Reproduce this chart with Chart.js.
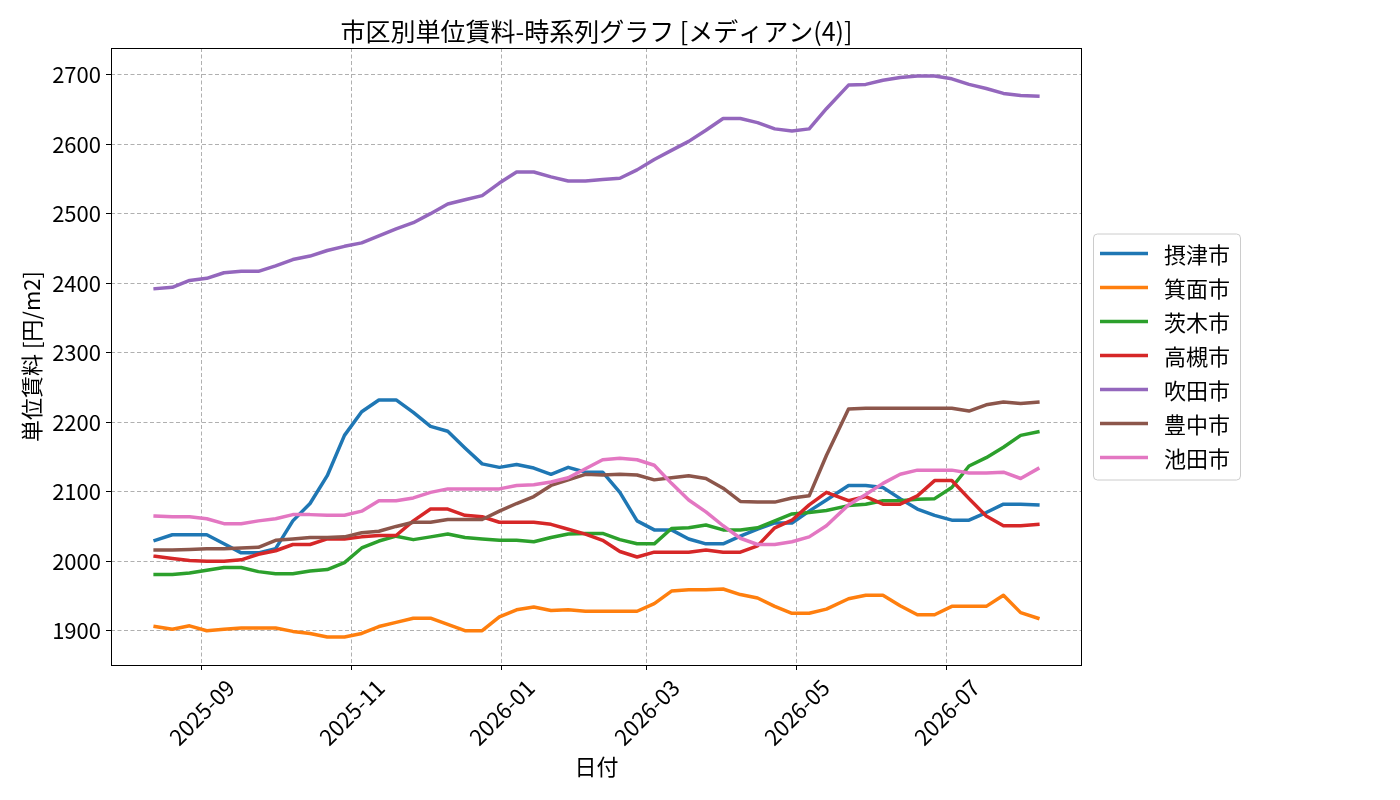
<!DOCTYPE html>
<html lang="ja">
<head>
<meta charset="utf-8">
<title>市区別単位賃料-時系列グラフ</title>
<script src="https://cdn.jsdelivr.net/npm/chart.js@4.4.1/dist/chart.umd.min.js"></script>
<style>
    html, body { margin: 0; padding: 0; background: #fff; }
    #wrap { width: 1400px; height: 800px; }
</style>
</head>
<body>
<div id="wrap"><canvas id="rentChart" width="1400" height="800"></canvas></div>
<script>
// Ngày quan sát (gần như mỗi tuần)
const dates = [
    '2025-08-13', '2025-08-20', '2025-08-27', '2025-09-03', '2025-09-10', '2025-09-17', '2025-09-24',
    '2025-10-01', '2025-10-08', '2025-10-15', '2025-10-22', '2025-10-29', '2025-11-05', '2025-11-12',
    '2025-11-19', '2025-11-26', '2025-12-03', '2025-12-10', '2025-12-17', '2025-12-24', '2025-12-31',
    '2026-01-07', '2026-01-14', '2026-01-21', '2026-01-28', '2026-02-04', '2026-02-11', '2026-02-18',
    '2026-02-25', '2026-03-04', '2026-03-11', '2026-03-18', '2026-03-25', '2026-04-01', '2026-04-08',
    '2026-04-15', '2026-04-22', '2026-04-29', '2026-05-06', '2026-05-13', '2026-05-22', '2026-05-29',
    '2026-06-05', '2026-06-12', '2026-06-19', '2026-06-26', '2026-07-03', '2026-07-10', '2026-07-17',
    '2026-07-24', '2026-07-31', '2026-08-07'
];

const cities = ['摂津市', '箕面市', '茨木市', '高槻市', '吹田市', '豊中市', '池田市'];

const settsu = [2030, 2038, 2038, 2038, 2025, 2012, 2012, 2018, 2058, 2083, 2123, 2181, 2215, 2232, 2232, 2214, 2194, 2187,
    2163, 2140, 2135, 2139, 2134, 2125, 2135, 2128, 2128, 2099, 2058, 2045, 2045, 2032, 2025, 2025, 2036, 2046, 2055,
    2055, 2072, 2088, 2109, 2109, 2106, 2090, 2075, 2066, 2059, 2059, 2070, 2082, 2082, 2081];
const minoh = [1906, 1902, 1907, 1900, 1902, 1904, 1904, 1904, 1899, 1896, 1891, 1891, 1896, 1906, 1912, 1918, 1918, 1909,
    1900, 1900, 1920, 1930, 1934, 1929, 1930, 1928, 1928, 1928, 1928, 1939, 1957, 1959, 1959, 1960, 1952, 1947, 1935,
    1925, 1925, 1931, 1946, 1951, 1951, 1936, 1923, 1923, 1935, 1935, 1935, 1951, 1926, 1918];
const ibaraki = [1981, 1981, 1983, 1987, 1991, 1991, 1985, 1982, 1982, 1986, 1988, 1998, 2019, 2029, 2036, 2031, 2035, 2039,
    2034, 2032, 2030, 2030, 2028, 2034, 2039, 2040, 2040, 2031, 2025, 2025, 2047, 2048, 2052, 2045, 2045, 2048, 2058,
    2068, 2070, 2073, 2080, 2082, 2087, 2087, 2089, 2090, 2106, 2137, 2149, 2164, 2181, 2186];
const takatsuki = [2007, 2004, 2001, 2000, 2000, 2002, 2010, 2015, 2024, 2024, 2032, 2032, 2035, 2037, 2037, 2058, 2075, 2075,
    2066, 2064, 2056, 2056, 2056, 2053, 2046, 2039, 2030, 2014, 2006, 2013, 2013, 2013, 2016, 2013, 2013, 2022, 2048,
    2059, 2081, 2099, 2087, 2093, 2082, 2082, 2094, 2116, 2116, 2090, 2065, 2051, 2051, 2053];
const suita = [2392, 2394, 2404, 2407, 2415, 2417, 2417, 2425, 2434, 2439, 2447, 2453, 2458, 2468, 2478, 2487, 2500, 2514,
    2520, 2526, 2544, 2560, 2560, 2553, 2547, 2547, 2549, 2551, 2563, 2578, 2591, 2604, 2620, 2637, 2637, 2631, 2622,
    2619, 2622, 2651, 2685, 2686, 2692, 2696, 2698, 2698, 2694, 2686, 2680, 2673, 2670, 2669];
const toyonaka = [2016, 2016, 2017, 2018, 2018, 2019, 2020, 2030, 2032, 2034, 2034, 2035, 2041, 2043, 2050, 2056, 2056, 2060,
    2060, 2060, 2072, 2083, 2093, 2109, 2117, 2125, 2124, 2125, 2124, 2117, 2120, 2123, 2119, 2105, 2086, 2085, 2085,
    2091, 2094, 2152, 2219, 2220, 2220, 2220, 2220, 2220, 2220, 2216, 2225, 2229, 2227, 2229];
const ikeda = [2065, 2064, 2064, 2061, 2054, 2054, 2058, 2061, 2067, 2067, 2066, 2066, 2072, 2087, 2087, 2091, 2099, 2104,
    2104, 2104, 2104, 2109, 2110, 2114, 2120, 2133, 2146, 2148, 2146, 2138, 2112, 2088, 2071, 2051, 2033, 2024, 2024,
    2028, 2035, 2051, 2081, 2096, 2112, 2125, 2131, 2131, 2131, 2127, 2127, 2128, 2119, 2133];

const seriesValues = [settsu, minoh, ibaraki, takatsuki, suita, toyonaka, ikeda];
const colors = ['#1f77b4', '#ff7f0e', '#2ca02c', '#d62728', '#9467bd', '#8c564b', '#e377c2'];

const xTickLabels = ['2025-09', '2025-11', '2026-01', '2026-03', '2026-05', '2026-07'];
const yTicks = [1900, 2000, 2100, 2200, 2300, 2400, 2500, 2600, 2700];

const FONT = '"Noto Sans CJK JP", "Noto Sans", sans-serif';

// 'YYYY-MM-DD' hoặc 'YYYY-MM' -> số ngày
function toDay(s) {
    const p = s.split('-').map(Number);
    return Date.UTC(p[0], p[1] - 1, p[2] || 1) / 86400000;
}

// lề 5% như matplotlib
function padRange(min, max) {
    const m = (max - min) * 0.05;
    return [min - m, max + m];
}

const dayValues = dates.map(toDay);
const xRange = padRange(Math.min(...dayValues), Math.max(...dayValues));
const allValues = seriesValues.flat();
const yRange = padRange(Math.min(...allValues), Math.max(...allValues));

// Khung trục + nhãn trục x xoay 45 độ
const framePlugin = {
    id: 'frame',
    afterDatasetsDraw(chart) {
        const { ctx, chartArea: a } = chart;
        ctx.save();
        ctx.strokeStyle = '#000';
        ctx.lineWidth = 1;
        ctx.strokeRect(a.left + 0.5, a.top + 0.5, a.right - a.left - 1, a.bottom - a.top);
        ctx.restore();
    },
    afterDraw(chart) {
        const { ctx, chartArea: a } = chart;
        const sc = chart.scales.x;
        ctx.save();
        ctx.font = '22px ' + FONT;
        ctx.fillStyle = '#000';
        ctx.textAlign = 'center';
        ctx.textBaseline = 'middle';
        xTickLabels.forEach(label => {
            const w = ctx.measureText(label).width;
            const h = 22;
            const bh = (w + h) * Math.SQRT1_2;
            const cx = sc.getPixelForValue(toDay(label));
            const cy = a.bottom + 11 + bh / 2;
            ctx.setTransform(1, 0, 0, 1, 0, 0);
            ctx.translate(cx, cy);
            ctx.rotate(-Math.PI / 4);
            ctx.fillText(label, 0, 0);
        });
        ctx.restore();
    }
};

// Chú thích bên phải
const legendPlugin = {
    id: 'sideLegend',
    afterDraw(chart) {
        const { ctx, chartArea: a } = chart;
        const x0 = a.right + 11;
        const rowH = 34;
        const boxW = 147;
        const boxH = rowH * cities.length + 8;
        const y0 = (a.top + a.bottom) / 2 - boxH / 2;
        ctx.save();
        ctx.beginPath();
        ctx.roundRect(x0 + 0.5, y0 + 0.5, boxW, boxH, 4);
        ctx.fillStyle = 'rgba(255,255,255,0.8)';
        ctx.fill();
        ctx.strokeStyle = '#cccccc';
        ctx.lineWidth = 1;
        ctx.stroke();
        ctx.font = '22px ' + FONT;
        ctx.textBaseline = 'middle';
        ctx.textAlign = 'left';
        chart.data.datasets.forEach((ds, i) => {
            const y = y0 + 20 + i * rowH;
            ctx.beginPath();
            ctx.strokeStyle = ds.borderColor;
            ctx.lineWidth = 3.5;
            ctx.lineCap = 'butt';
            ctx.moveTo(x0 + 7, y);
            ctx.lineTo(x0 + 55, y);
            ctx.stroke();
            ctx.fillStyle = '#000';
            ctx.fillText(ds.label, x0 + 71, y + 1);
        });
        ctx.restore();
    }
};

function buildDatasets() {
    return cities.map((name, i) => ({
        label: name,
        data: seriesValues[i].map((v, j) => ({ x: dayValues[j], y: v })),
        borderColor: colors[i],
        backgroundColor: colors[i],
        borderWidth: 3.5,
        borderCapStyle: 'square',
        borderJoinStyle: 'round',
        pointRadius: 0,
        tension: 0,
        fill: false,
        order: cities.length - i
    }));
}

document.addEventListener('DOMContentLoaded', function() {
    const ctx = document.getElementById('rentChart').getContext('2d');
    window.rentChart = new Chart(ctx, {
        type: 'line',
        data: { datasets: buildDatasets() },
        options: {
            responsive: false,
            animation: false,
            layout: { padding: { left: 0, right: 318, top: 0, bottom: 0 } },
            plugins: {
                legend: { display: false },
                tooltip: { enabled: false },
                title: {
                    display: true,
                    fullSize: false,
                    text: '市区別単位賃料-時系列グラフ [メディアン(4)]',
                    color: '#000',
                    font: { family: FONT, size: 25, weight: 'normal' },
                    padding: { top: 16, bottom: 2 }
                }
            },
            scales: {
                x: {
                    type: 'linear',
                    min: xRange[0],
                    max: xRange[1],
                    afterBuildTicks: scale => {
                        scale.ticks = xTickLabels.map(l => ({ value: toDay(l) }));
                    },
                    afterFit: scale => { scale.height = 135; },
                    ticks: { display: false, autoSkip: false },
                    grid: {
                        color: '#b0b0b0',
                        lineWidth: 1,
                        tickLength: 5,
                        tickColor: '#000',
                        tickBorderDash: []
                    },
                    border: { display: false, dash: [4, 2.5] },
                    title: {
                        display: true,
                        text: '日付',
                        color: '#000',
                        font: { family: FONT, size: 22 },
                        padding: { top: 0, bottom: 20 }
                    }
                },
                y: {
                    type: 'linear',
                    min: yRange[0],
                    max: yRange[1],
                    afterBuildTicks: scale => {
                        scale.ticks = yTicks.map(v => ({ value: v }));
                    },
                    afterFit: scale => { scale.width = 111; },
                    ticks: {
                        color: '#000',
                        padding: 5,
                        font: { family: FONT, size: 22 },
                        callback: value => String(value)
                    },
                    grid: {
                        color: '#b0b0b0',
                        lineWidth: 1,
                        tickLength: 5,
                        tickColor: '#000',
                        tickBorderDash: []
                    },
                    border: { display: false, dash: [4, 2.5] },
                    title: {
                        display: true,
                        text: '単位賃料 [円/m2]',
                        color: '#000',
                        font: { family: FONT, size: 22 },
                        padding: { top: 18, bottom: 0 }
                    }
                }
            }
        },
        plugins: [framePlugin, legendPlugin]
    });
});
</script>
</body>
</html>
